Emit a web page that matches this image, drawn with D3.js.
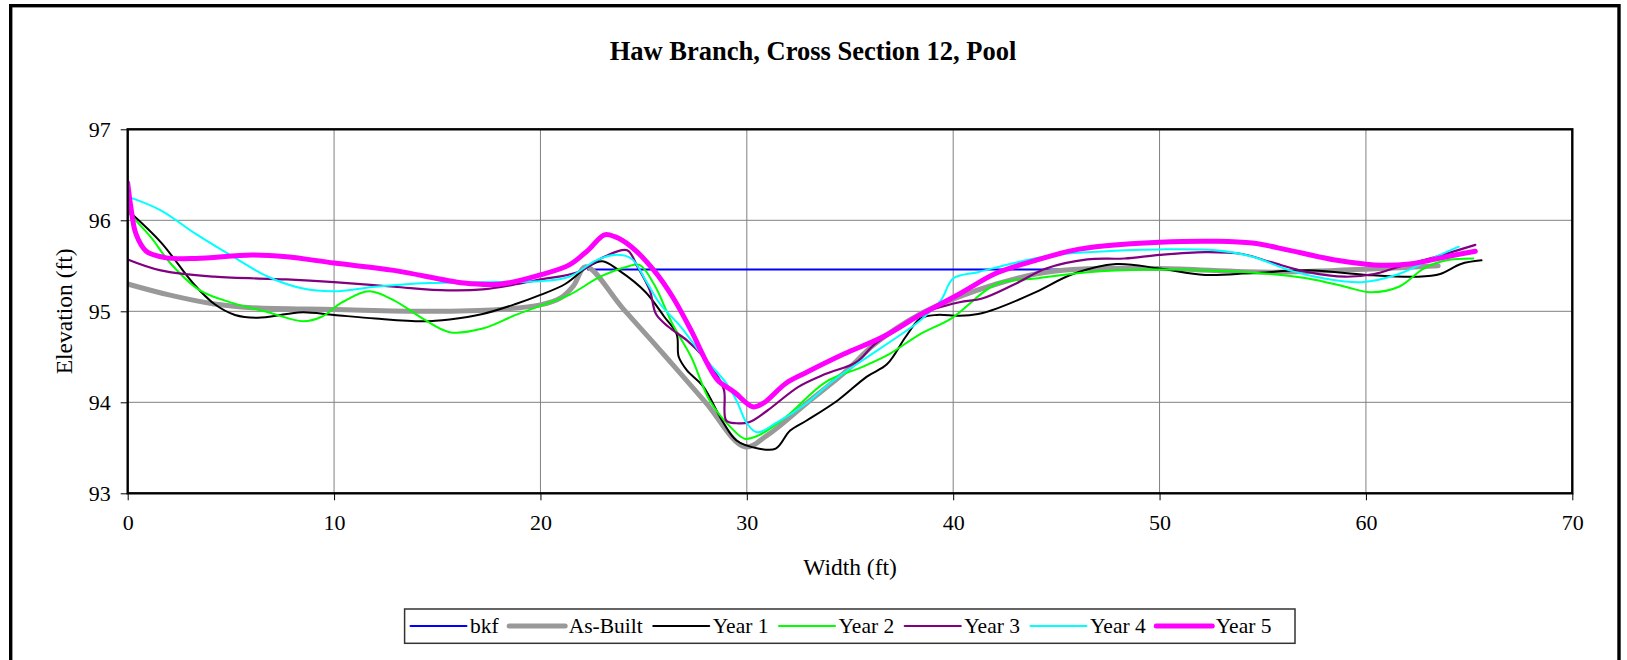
<!DOCTYPE html>
<html>
<head>
<meta charset="utf-8">
<script src="https://cdn.jsdelivr.net/npm/d3@7"></script>
<style>
  html, body { margin: 0; padding: 0; background: #fff; }
  svg { display: block; font-family: "Liberation Serif", "Times New Roman", serif; }
</style>
</head>
<body>
<svg id="chart" width="1627" height="660"></svg>
<script>
// Survey points along the cross section: [width (ft), elevation (ft)]
const bkf = [[22.3, 95.46], [47.5, 95.46]];
const asBuilt = [[0,95.30],[2,95.18],[4.2,95.08],[6,95.04],[10,95.02],[14.6,95.00],[18,95.02],[20,95.07],[21,95.15],[21.6,95.28],[22.2,95.49],[24,95.03],[26,94.52],[28,94.00],[29.9,93.51],[31.0,93.64],[32.9,93.99],[34.7,94.32],[36.2,94.64],[38.4,94.97],[40.3,95.16],[42.1,95.30],[44.0,95.41],[45.8,95.46],[50,95.47],[55.4,95.43],[60.7,95.47],[63.5,95.50]];
const year1 = [[0,96.11],[1.6,95.76],[3.2,95.30],[4.2,95.08],[5.2,94.96],[6.3,94.93],[7.7,94.97],[8.5,94.99],[10,94.96],[12,94.92],[14.3,94.89],[15.6,94.91],[17.2,94.97],[18.8,95.08],[20,95.18],[21.2,95.30],[22.3,95.49],[23.0,95.55],[23.8,95.45],[25.1,95.21],[26.0,94.94],[26.6,94.75],[26.7,94.50],[27.1,94.35],[27.9,94.17],[28.8,93.80],[29.5,93.58],[30.6,93.49],[31.4,93.49],[32.1,93.69],[32.9,93.80],[34.4,94.02],[35.8,94.28],[36.8,94.42],[37.7,94.72],[38.4,94.92],[39.2,94.96],[40.3,94.95],[41.2,94.97],[42.1,95.03],[44.0,95.21],[45.8,95.41],[47.9,95.52],[50,95.47],[52.2,95.40],[54.5,95.42],[57.2,95.45],[60,95.40],[62.5,95.38],[63.6,95.41],[64.6,95.52],[65.6,95.56]];
const year2 = [[0,96.09],[1.1,95.82],[2.1,95.52],[3.5,95.23],[5.1,95.09],[6.8,94.99],[8.5,94.89],[9.4,94.94],[10.4,95.10],[11.7,95.22],[12.9,95.12],[14.3,94.92],[15.6,94.77],[17.2,94.81],[18.8,94.96],[20,95.06],[21.4,95.18],[22.9,95.38],[24.2,95.49],[24.8,95.51],[25.5,95.30],[26.4,94.86],[27.3,94.50],[28.2,94.02],[29.2,93.73],[29.9,93.60],[30.6,93.64],[31.9,93.84],[33.8,94.22],[35.6,94.39],[36.9,94.53],[38.4,94.75],[39.9,94.92],[42.1,95.30],[44.0,95.36],[46.5,95.43],[50,95.46],[55.4,95.41],[57.2,95.36],[59,95.27],[60.2,95.21],[61.6,95.27],[62.8,95.47],[63.9,95.56],[65.2,95.58]];
const year3 = [[0,95.57],[1.6,95.45],[4.2,95.38],[7.7,95.35],[10,95.32],[12.9,95.27],[15.5,95.23],[17.2,95.24],[18.9,95.30],[20,95.35],[21.8,95.43],[23.1,95.60],[24.2,95.67],[24.7,95.49],[25.3,95.23],[25.6,94.97],[26.2,94.83],[27.1,94.68],[27.9,94.50],[28.6,94.28],[28.9,94.13],[29.0,93.80],[29.5,93.77],[30.1,93.78],[31.0,93.91],[32.5,94.17],[33.8,94.31],[35.3,94.44],[36.2,94.64],[37.5,94.83],[38.4,94.97],[40.3,95.10],[41.4,95.14],[43.0,95.30],[44.5,95.47],[46.5,95.57],[48.3,95.58],[50,95.62],[52.2,95.65],[54,95.63],[55.4,95.54],[57.2,95.43],[59,95.38],[60.4,95.41],[61.6,95.49],[63.4,95.60],[65.3,95.73]];
const year4 = [[0,96.26],[1.6,96.11],[3.3,95.85],[5.1,95.60],[6.8,95.38],[8.5,95.25],[10,95.22],[12,95.27],[14.6,95.31],[17.2,95.32],[20,95.33],[21.4,95.38],[22.7,95.56],[23.6,95.62],[24.4,95.58],[25.1,95.34],[25.8,95.08],[26.8,94.83],[27.9,94.50],[29.0,94.21],[29.5,94.02],[30.0,93.77],[30.5,93.67],[31.4,93.77],[32.9,93.99],[34.2,94.24],[35.6,94.46],[37.5,94.75],[38.4,94.90],[39.4,95.12],[40.0,95.36],[41.2,95.43],[43.1,95.54],[44.9,95.62],[46.5,95.65],[50,95.68],[52.7,95.67],[54.5,95.60],[56.3,95.45],[58,95.36],[59.8,95.32],[61.6,95.41],[63.4,95.60],[64.5,95.71]];
const year5 = [[0,96.41],[0.15,96.15],[0.4,95.85],[0.9,95.66],[1.8,95.59],[3.3,95.58],[6,95.62],[7.7,95.60],[10,95.53],[12.9,95.45],[16.3,95.31],[18.1,95.30],[20,95.40],[21.4,95.51],[22.3,95.67],[23.1,95.84],[23.6,95.82],[24.4,95.71],[25.5,95.45],[26.4,95.16],[27.3,94.79],[28.1,94.42],[28.6,94.24],[29.4,94.11],[30.3,93.95],[30.8,93.99],[31.9,94.21],[32.9,94.33],[34.7,94.53],[36.6,94.72],[38.4,94.96],[40.3,95.19],[42.1,95.42],[44.0,95.56],[45.8,95.67],[47.4,95.72],[50,95.76],[52.7,95.77],[54.5,95.75],[56.3,95.67],[58.6,95.56],[60.4,95.51],[62.1,95.52],[63.9,95.60],[65.3,95.66]];

const seriesNames = ["bkf", "As-Built", "Year 1", "Year 2", "Year 3", "Year 4", "Year 5"];
const seriesData = [bkf, asBuilt, year1, year2, year3, year4, year5];
const xTicks = [0, 10, 20, 30, 40, 50, 60, 70];
const yTicks = [93, 94, 95, 96, 97];

const colors = ["#0000FF", "#999999", "#000000", "#00FF00", "#800080", "#00FFFF", "#FF00FF"];
const widths = [2, 5, 2, 2, 2.2, 2, 5];

const svg = d3.select("#chart");

// outer frame
svg.append("rect")
  .attr("x", 10.7).attr("y", 5.7)
  .attr("width", 1619 - 10.7).attr("height", 720)
  .attr("fill", "none").attr("stroke", "#000").attr("stroke-width", 3.4);

const plot = { left: 127.7, right: 1572.3, top: 129.3, bottom: 493.3 };
const x = d3.scaleLinear().domain([0, 70]).range([plot.left, plot.right]);
const y = d3.scaleLinear().domain([93, 97]).range([plot.bottom, plot.top]);

// title
svg.append("text")
  .attr("x", 813).attr("y", 60)
  .attr("text-anchor", "middle")
  .attr("font-size", 26.5).attr("font-weight", "bold")
  .text("Haw Branch, Cross Section 12, Pool");

// gridlines
const grid = svg.append("g");
grid.selectAll("line.v").data(xTicks.slice(1, -1)).enter().append("line")
  .attr("x1", d => x(d)).attr("x2", d => x(d))
  .attr("y1", plot.top).attr("y2", plot.bottom)
  .attr("stroke", "#808080").attr("stroke-width", 1);
grid.selectAll("line.h").data(yTicks.slice(1, -1)).enter().append("line")
  .attr("x1", plot.left).attr("x2", plot.right)
  .attr("y1", d => y(d)).attr("y2", d => y(d))
  .attr("stroke", "#808080").attr("stroke-width", 1);

// axes
const xAxis = svg.append("g").attr("transform", `translate(0,${plot.bottom})`)
  .call(d3.axisBottom(x).tickValues(xTicks).tickSize(7).tickSizeOuter(0).tickPadding(14).tickFormat(d3.format("d")));
const yAxis = svg.append("g").attr("transform", `translate(${plot.left},0)`)
  .call(d3.axisLeft(y).tickValues(yTicks).tickSize(7).tickSizeOuter(0).tickPadding(10).tickFormat(d3.format("d")));
[xAxis, yAxis].forEach(a => {
  a.select(".domain").remove();
  a.selectAll("line").attr("stroke", "#000").attr("stroke-width", 1);
  a.selectAll("text").attr("font-family", "Liberation Serif, Times New Roman, serif")
    .attr("font-size", 22).attr("fill", "#000");
});
xAxis.selectAll("text").attr("dy", "0.71em");
yAxis.selectAll("text").attr("dy", "0.34em");

// axis titles
svg.append("text")
  .attr("transform", `translate(64,${(plot.top + plot.bottom) / 2}) rotate(-90)`)
  .attr("text-anchor", "middle").attr("dominant-baseline", "central")
  .attr("font-size", 23.5).text("Elevation (ft)");
svg.append("text")
  .attr("x", (plot.left + plot.right) / 2).attr("y", 567)
  .attr("text-anchor", "middle").attr("dominant-baseline", "central")
  .attr("font-size", 23.5).text("Width (ft)");

// series lines, smoothed
const line = d3.line()
  .x(d => x(d[0])).y(d => y(d[1]))
  .curve(d3.curveCatmullRom.alpha(0.5));
const clipId = "plotclip";
svg.append("clipPath").attr("id", clipId).append("rect")
  .attr("x", plot.left).attr("y", plot.top)
  .attr("width", plot.right - plot.left).attr("height", plot.bottom - plot.top);
svg.append("g").attr("clip-path", `url(#${clipId})`)
  .selectAll("path").data(seriesData).enter().append("path")
  .attr("d", d => line(d))
  .attr("fill", "none")
  .attr("stroke", (d, i) => colors[i])
  .attr("stroke-width", (d, i) => widths[i])
  .attr("stroke-linejoin", "round").attr("stroke-linecap", "round");

// plot frame
svg.append("rect")
  .attr("x", plot.left).attr("y", plot.top)
  .attr("width", plot.right - plot.left).attr("height", plot.bottom - plot.top)
  .attr("fill", "none").attr("stroke", "#000").attr("stroke-width", 2.4);

// legend
const legend = svg.append("g");
const legBox = legend.append("rect")
  .attr("x", 404.6).attr("y", 609).attr("height", 34.3)
  .attr("fill", "#fff").attr("stroke", "#333").attr("stroke-width", 1.5);
let lx = 410.5;
const ly = 626;
seriesNames.forEach((name, i) => {
  legend.append("line")
    .attr("x1", lx).attr("x2", lx + 56).attr("y1", ly).attr("y2", ly)
    .attr("stroke", colors[i]).attr("stroke-width", widths[i])
    .attr("stroke-linecap", "round");
  const t = legend.append("text")
    .attr("x", lx + 59.5).attr("y", ly).attr("dy", "0.34em")
    .attr("font-size", 21.5).text(name);
  lx += 59.5 + t.node().getComputedTextLength() + 10.5;
});
legBox.attr("width", 1295 - 404.6);
</script>
</body>
</html>
